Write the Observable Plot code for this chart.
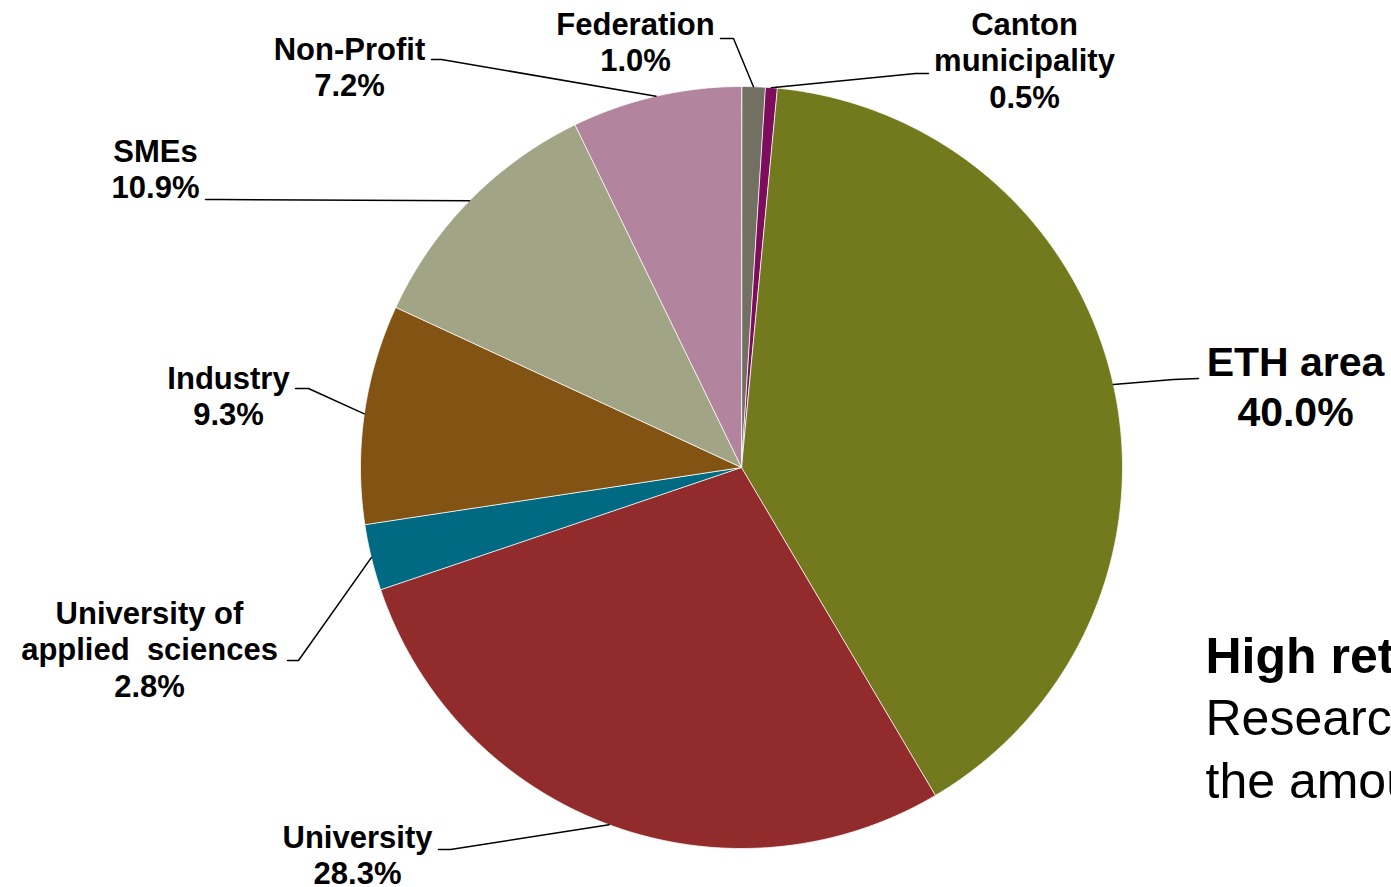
<!DOCTYPE html>
<html>
<head>
<meta charset="utf-8">
<script src="https://cdn.jsdelivr.net/npm/d3@7"></script>
<script src="https://cdn.jsdelivr.net/npm/@observablehq/plot@0.6"></script>
<style>
  html, body { margin: 0; padding: 0; background: #ffffff; overflow: hidden; }
  #chart svg text { white-space: pre; }
</style>
</head>
<body>
<div id="chart"></div>
<script>
// ---- data (clockwise from 12 o'clock) ----
const categories = ["Federation", "Canton municipality", "ETH area", "University",
  "University of applied sciences", "Industry", "SMEs", "Non-Profit"];
const shares = [1.0, 0.5, 40.0, 28.3, 2.8, 9.3, 10.9, 7.2];
const labelLines = [["Federation"], ["Canton", "municipality"], ["ETH area"], ["University"],
  ["University of", "applied  sciences"], ["Industry"], ["SMEs"], ["Non-Profit"]];
const sliceColors = ["#727062", "#7E0C5C", "#737A1E", "#922B2B", "#006A82", "#825312", "#A2A585", "#B3849D"];
const sideNoteTitle = ["High return"];
const sideNoteBody = ["Research", "the amount"];

// ---- layout (pixels) ----
const W = 1391, H = 887;
const cx = 741, cy = 467, R = 381;
// label text centre, elbow and stub end, relative to pie centre
const labelLayout = [
  {text: [-106, -426], elbow: [-8, -429], stub: [-21, -429]},
  {text: [283, -408], elbow: [174, -394], stub: [187, -394]},
  {text: [554, -83], elbow: [432, -88], stub: [457, -89]},
  {text: [-384, 387], elbow: [-291, 382], stub: [-303, 382]},
  {text: [-592, 181], elbow: [-443, 193], stub: [-454, 193]},
  {text: [-513, -72], elbow: [-433, -79], stub: [-446, -79]},
  {text: [-586, -299], elbow: [-523, -268], stub: [-536, -268]},
  {text: [-392, -401], elbow: [-300, -408], stub: [-310, -408]}
];

const arcs = d3.pie().sort(null).value(d => d)(shares);
const pt = (a, r) => [cx + r * Math.sin(a), cy - r * Math.cos(a)];

// slice polygons
const slicePts = [];
arcs.forEach((a, i) => {
  const name = categories[i];
  slicePts.push({name, x: cx, y: cy});
  const n = Math.max(4, Math.ceil((a.endAngle - a.startAngle) / (Math.PI / 720)));
  for (let k = 0; k <= n; k++) {
    const ang = a.startAngle + (a.endAngle - a.startAngle) * k / n;
    const [x, y] = pt(ang, R);
    slicePts.push({name, x, y});
  }
});

// leader lines
const leaderPts = [];
arcs.forEach((a, i) => {
  const name = categories[i];
  const mid = (a.startAngle + a.endAngle) / 2;
  const [x0, y0] = pt(mid, R);
  const L = labelLayout[i];
  leaderPts.push({name, x: x0, y: y0});
  leaderPts.push({name, x: cx + L.elbow[0], y: cy + L.elbow[1]});
  leaderPts.push({name, x: cx + L.stub[0], y: cy + L.stub[1]});
});

const labels = arcs.map((a, i) => ({
  name: categories[i],
  x: cx + labelLayout[i].text[0],
  y: cy + labelLayout[i].text[1],
  label: labelLines[i].join("\n") + "\n" + shares[i].toFixed(1) + "%",
  big: categories[i] === "ETH area"
}));

const font = "'Liberation Sans', Arial, Helvetica, sans-serif";
const noteX = 1205, noteY = 656, noteStep = 62.5;

const chart = Plot.plot({
  width: W,
  height: H,
  margin: 0,
  style: {background: "#ffffff", fontFamily: font, overflow: "hidden"},
  x: {domain: [0, W], range: [0, W], axis: null},
  y: {domain: [0, H], range: [0, H], axis: null},
  color: {domain: categories, range: sliceColors},
  marks: [
    Plot.line(slicePts, {x: "x", y: "y", z: "name", fill: "name", stroke: "#ffffff",
      strokeWidth: 0.8, curve: "linear-closed"}),
    Plot.line(leaderPts, {x: "x", y: "y", z: "name", stroke: "#000000", strokeWidth: 1.5}),
    Plot.text(labels.filter(d => !d.big), {x: "x", y: "y", text: "label", fontSize: 31,
      fontWeight: "bold", lineHeight: 1.18, fill: "#000000", textAnchor: "middle", lineAnchor: "middle",
      fontFamily: font}),
    Plot.text(labels.filter(d => d.big), {x: "x", y: "y", text: "label", fontSize: 41,
      fontWeight: "bold", lineHeight: 1.22, fill: "#000000", textAnchor: "middle", lineAnchor: "middle",
      fontFamily: font}),
    Plot.text(sideNoteTitle, {x: () => noteX, y: () => noteY, text: d => d, fontSize: 50,
      fontWeight: "bold", textAnchor: "start", lineAnchor: "middle", fill: "#000000", fontFamily: font}),
    Plot.text(sideNoteBody, {x: () => noteX, y: (d, i) => noteY + (i + 1) * noteStep, text: d => d,
      fontSize: 50, fontWeight: "normal", textAnchor: "start", lineAnchor: "middle", fill: "#000000",
      fontFamily: font})
  ]
});

document.getElementById("chart").append(chart);
</script>
</body>
</html>
